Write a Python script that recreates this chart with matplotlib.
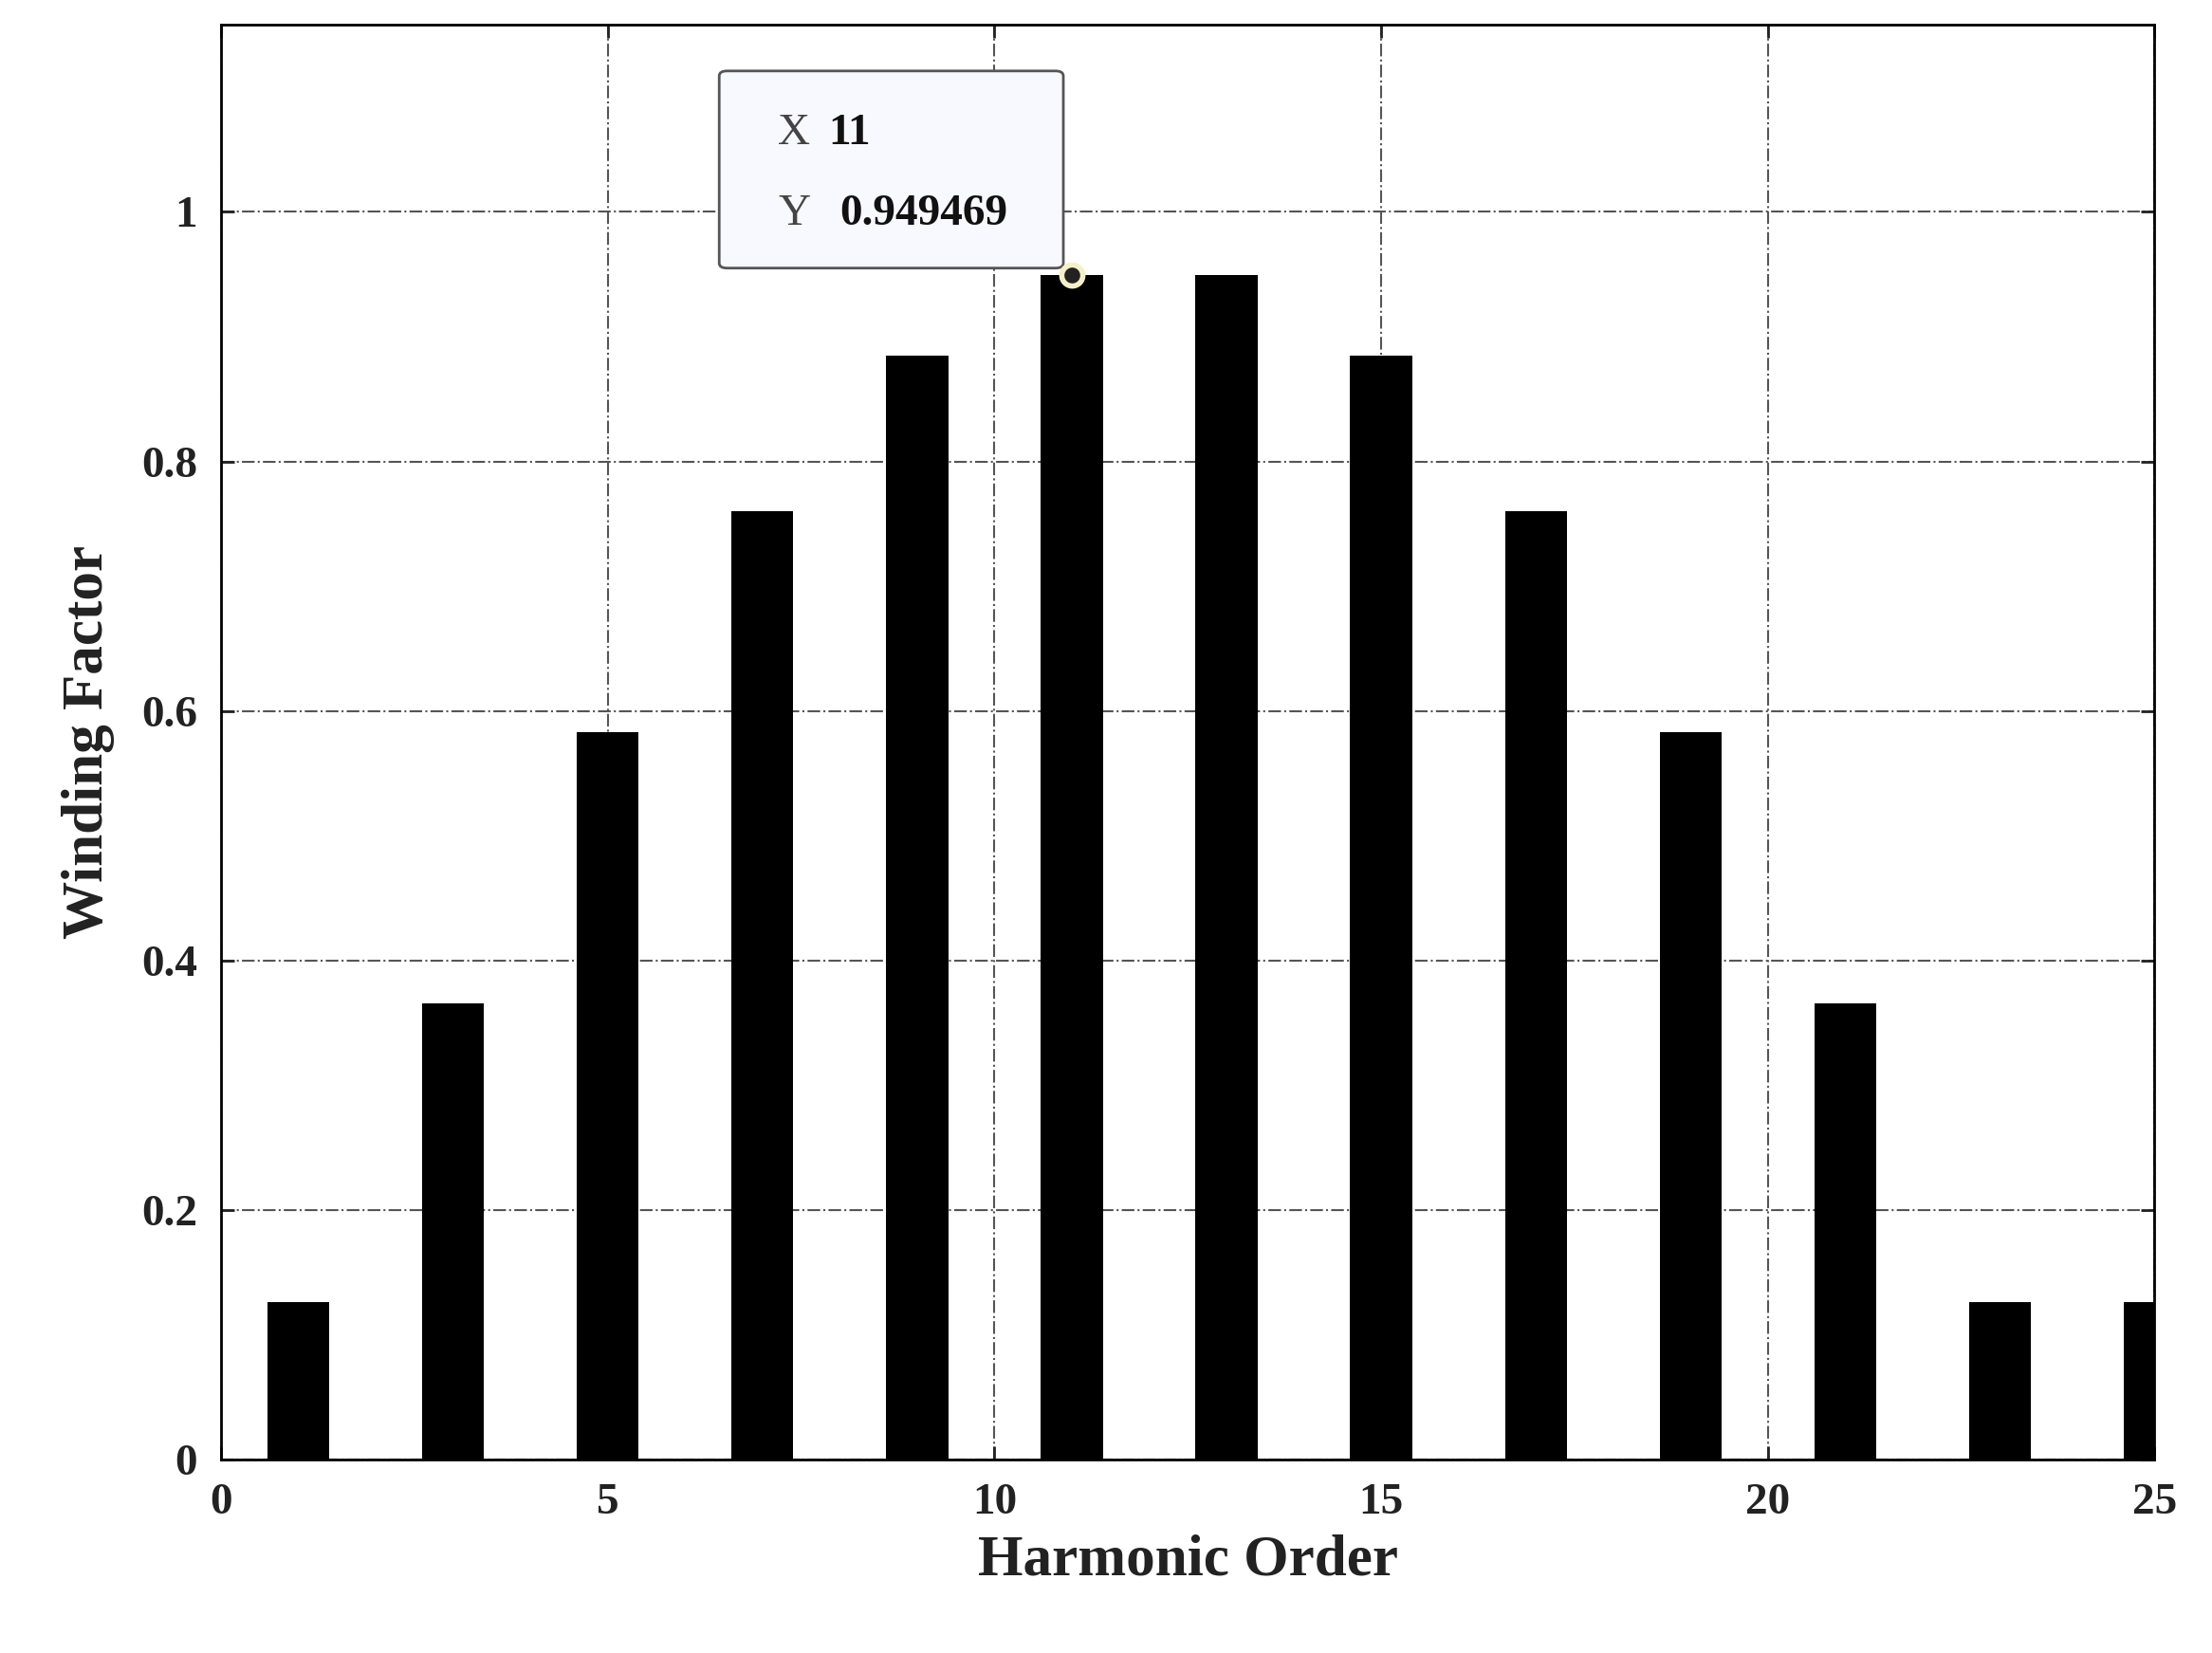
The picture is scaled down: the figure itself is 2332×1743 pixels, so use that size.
import matplotlib.pyplot as plt
from matplotlib.patches import FancyBboxPatch

# -------- DATA --------
harmonics = [1, 3, 5, 7, 9, 11, 13, 15, 17, 19, 21, 23, 25]
winding = [0.126, 0.366, 0.583, 0.760, 0.885, 0.949469, 0.949469,
           0.885, 0.760, 0.583, 0.366, 0.126, 0.126]
xticks = [0, 5, 10, 15, 20, 25]
yticks = [0, 0.2, 0.4, 0.6, 0.8, 1]
ytick_labels = ["0", "0.2", "0.4", "0.6", "0.8", "1"]

plt.rcParams['font.family'] = ['Liberation Serif', 'DejaVu Serif']
plt.rcParams['font.weight'] = 'bold'

fig = plt.figure(figsize=(23.32, 17.43), dpi=100)
ax = fig.add_axes([0.100, 0.117, 0.874, 0.868])

ax.bar(harmonics, winding, width=0.8, color='black', zorder=3)

ax.set_xlim(0, 25)
ax.set_ylim(0, 1.15)
ax.set_xticks(xticks)
ax.set_yticks(yticks)
ax.set_yticklabels(ytick_labels)
ax.tick_params(direction='in', top=True, right=True, length=10, width=2,
               labelsize=34, colors='#222222', pad=18)
for lbl in ax.get_xticklabels() + ax.get_yticklabels():
    lbl.set_fontweight('bold')
for s in ax.spines.values():
    s.set_linewidth(2)
ax.grid(True, linestyle='-.', color='#555555', linewidth=1.5, zorder=0)

ax.set_xlabel("Harmonic Order", fontsize=44, fontweight='bold', color='#222222', labelpad=8)
ax.set_ylabel("Winding Factor", fontsize=44, fontweight='bold', color='#222222', labelpad=20)

# -------- DATATIP --------
ax.plot(11, winding[5], 'o', color='#222222', markeredgecolor='#f5f0c8',
        markeredgewidth=4, markersize=16, zorder=6)
box = FancyBboxPatch((6.44, 0.955), 4.45, 0.158,
                     boxstyle="round,pad=0,rounding_size=0.1",
                     facecolor='#f8f8ff', edgecolor='#555555', linewidth=2,
                     zorder=5, mutation_aspect=0.04)
ax.add_patch(box)
ax.text(7.2, 1.063, "X", fontsize=34, fontweight='normal', color='#444444', va='center', zorder=7)
ax.text(7.85, 1.063, "11", fontsize=34, fontweight='bold', color='#111111', va='center', zorder=7)
ax.text(7.2, 0.998, "Y", fontsize=34, fontweight='normal', color='#444444', va='center', zorder=7)
ax.text(8.0, 0.998, "0.949469", fontsize=34, fontweight='bold', color='#111111', va='center', zorder=7)

fig.savefig("out.png", dpi=100)
